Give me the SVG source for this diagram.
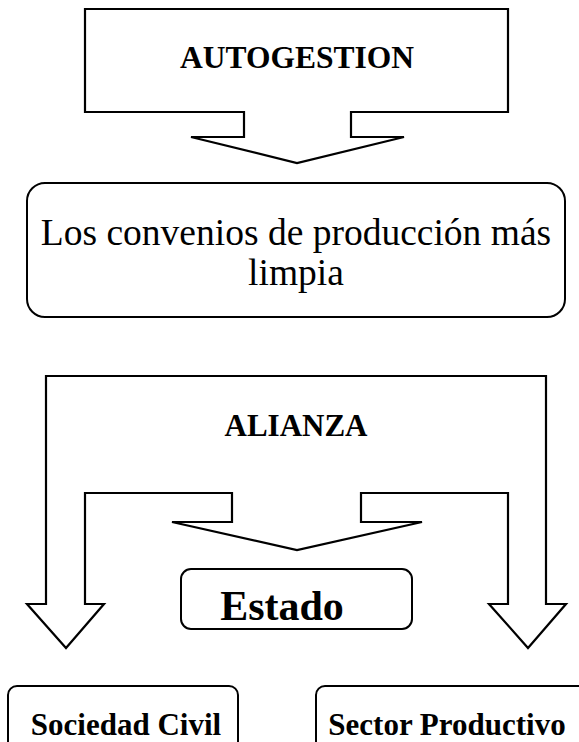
<svg xmlns="http://www.w3.org/2000/svg" width="579" height="742" viewBox="0 0 579 742">
<style>
.shape{fill:#fff;stroke:#000;stroke-width:2.2;stroke-linejoin:miter}
.box{fill:#fff;stroke:#000;stroke-width:2}
.t{font-family:"Liberation Serif","Times New Roman",serif;fill:#000;text-anchor:middle}
.b{font-weight:bold}
</style>
<rect width="579" height="742" fill="#fff"/>
<g id="autogestion">
<polygon class="shape" points="85,9 508,9 508,112 351,112 351,137 404,137 297,163 191,137 244,137 244,112 85,112"/>
<text class="t b" x="297" y="68" font-size="31.5">AUTOGESTION</text>
</g>
<g id="convenios">
<rect class="box" x="27" y="183" width="538" height="134" rx="18" ry="18"/>
<text class="t" x="296" y="245" font-size="37.5">Los convenios de producción más</text>
<text class="t" x="296" y="285" font-size="37.5">limpia</text>
</g>
<g id="alianza">
<polygon class="shape" points="46,376 546,376 546,604 566,604 528,648 489,604 508,604 508,493 361,493 361,522 422,522 297,550 172,522 232,522 232,493 85,493 85,604 104,604 66,648 27,604 46,604"/>
<text class="t b" x="296" y="436" font-size="31">ALIANZA</text>
</g>
<g id="estado">
<rect class="box" x="181" y="569" width="231" height="60" rx="10" ry="10"/>
<text class="t b" x="282" y="620" font-size="42">Estado</text>
</g>
<g id="sociedad">
<rect class="box" x="8" y="686" width="230" height="70" rx="9" ry="9"/>
<text class="t b" x="126" y="735" font-size="31">Sociedad Civil</text>
</g>
<g id="sector">
<rect class="box" x="316" y="686" width="275" height="70" rx="9" ry="9"/>
<text class="t b" x="447" y="735" font-size="31">Sector Productivo</text>
</g>
<g id="connectors"></g>
</svg>
